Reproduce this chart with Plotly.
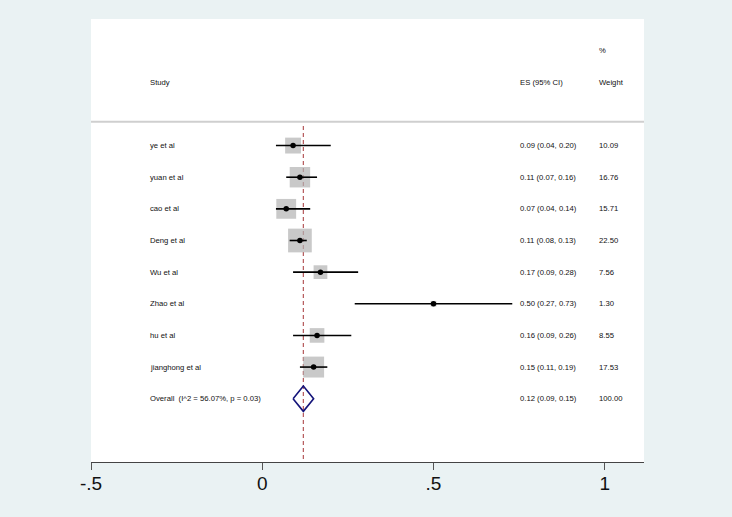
import plotly.graph_objects as go

# ---------------- data ----------------
studies = ["ye et al", "yuan et al", "cao et al", "Deng et al", "Wu et al",
           "Zhao et al", "hu et al", "jianghong et al"]
es = [0.09, 0.11, 0.07, 0.11, 0.17, 0.50, 0.16, 0.15]
ci_lo = [0.04, 0.07, 0.04, 0.08, 0.09, 0.27, 0.09, 0.11]
ci_hi = [0.20, 0.16, 0.14, 0.13, 0.28, 0.73, 0.26, 0.19]
weights = [10.09, 16.76, 15.71, 22.50, 7.56, 1.30, 8.55, 17.53]

overall_label = "Overall  (I^2 = 56.07%, p = 0.03)"
overall_es = 0.12
overall_lo = 0.09
overall_hi = 0.15
overall_weight = 100.00

tick_vals = [-0.5, 0, 0.5, 1]
tick_text = ["-.5", "0", ".5", "1"]

# ---------------- styling ----------------
FONT = "Liberation Sans, Arial, sans-serif"
TXT = 7.7
BG = "#eaf2f3"
BOX_SCALE = 5.0

n = len(studies)
rows = list(range(n))
overall_row = n

fig = go.Figure()

# weight boxes
fig.add_trace(go.Scatter(
    x=es, y=rows, mode="markers",
    marker=dict(symbol="square", size=[BOX_SCALE * w ** 0.5 for w in weights],
                color="#b2b2b2", line=dict(width=0)),
    hoverinfo="skip", showlegend=False))

# confidence intervals
for r, lo, hi in zip(rows, ci_lo, ci_hi):
    fig.add_trace(go.Scatter(
        x=[lo, hi], y=[r, r], mode="lines",
        line=dict(color="#000000", width=1.6),
        hoverinfo="skip", showlegend=False))

# point estimates
fig.add_trace(go.Scatter(
    x=es, y=rows, mode="markers",
    marker=dict(symbol="circle", size=5.5, color="#000000"),
    hoverinfo="skip", showlegend=False))

# overall diamond
h = 0.4
fig.add_trace(go.Scatter(
    x=[overall_lo, overall_es, overall_hi, overall_es, overall_lo],
    y=[overall_row, overall_row - h, overall_row, overall_row + h, overall_row],
    mode="lines", line=dict(color="#14147a", width=1.6),
    hoverinfo="skip", showlegend=False))

# vertical dashed line at overall effect
fig.add_shape(type="line", x0=overall_es, x1=overall_es, y0=-0.62, y1=10,
              xref="x", yref="y",
              line=dict(color="#b5585a", width=1.2, dash="4px,3px"), layer="below")

# header separator
fig.add_shape(type="line", x0=0, x1=1, y0=-0.75, y1=-0.75, xref="paper", yref="y",
              line=dict(color="#cfcfcf", width=2))

# text columns
COL_STUDY = 0.1045
COL_ES = 0.7742
COL_W = 0.9160

def txt(x, y, s):
    fig.add_annotation(x=x, y=y, xref="paper", yref="y", text=s, showarrow=False,
                       xanchor="left", yanchor="middle", borderpad=0,
                       font=dict(family=FONT, size=TXT, color="#111111"))

txt(COL_STUDY, -2, "Study")
txt(COL_ES, -2, "ES (95% CI)")
txt(COL_W, -3, "%")
txt(COL_W, -2, "Weight")

for r, s, e, lo, hi, w in zip(rows, studies, es, ci_lo, ci_hi, weights):
    txt(COL_STUDY, r, s)
    txt(COL_ES, r, f"{e:.2f} ({lo:.2f}, {hi:.2f})")
    txt(COL_W, r, f"{w:.2f}")

txt(COL_STUDY, overall_row, overall_label)
txt(COL_ES, overall_row, f"{overall_es:.2f} ({overall_lo:.2f}, {overall_hi:.2f})")
txt(COL_W, overall_row, f"{overall_weight:.2f}")

fig.update_layout(
    width=732, height=517,
    margin=dict(l=91, r=88, t=19, b=55, pad=0),
    paper_bgcolor=BG, plot_bgcolor="#ffffff",
    xaxis=dict(range=[-0.5, 1.1146], tickvals=tick_vals, ticktext=tick_text,
               showgrid=False, zeroline=False, showline=True, linecolor="#444444",
               linewidth=1.2, ticks="outside", ticklen=7, tickwidth=1.2,
               tickcolor="#555555", ticklabelstandoff=-3,
               tickfont=dict(family=FONT, size=19, color="#111111"), fixedrange=True),
    yaxis=dict(range=[10, -4], showgrid=False, zeroline=False, showline=False,
               showticklabels=False, ticks="", fixedrange=True),
    showlegend=False,
)

fig.write_html(
    "out.html",
    config={"displayModeBar": False},
    post_script="document.body.style.margin='0';document.body.style.padding='0';"
                "document.body.style.overflow='hidden';"
                "document.body.style.background='#eaf2f3';",
)
